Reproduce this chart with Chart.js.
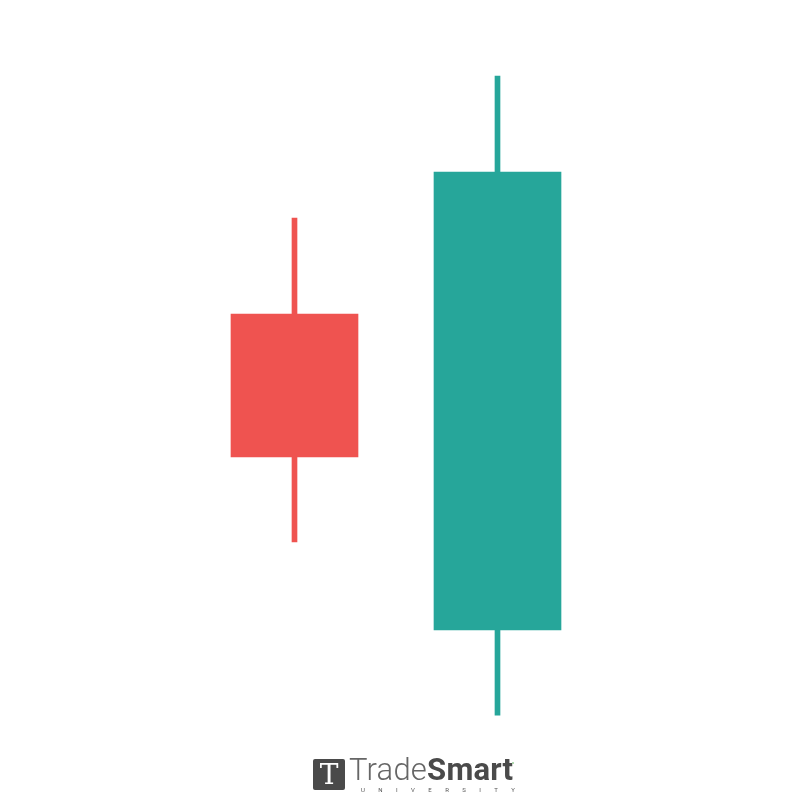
<!DOCTYPE html>
<html>
<head>
<meta charset="utf-8">
<script src="https://cdn.jsdelivr.net/npm/chart.js@4.4.0/dist/chart.umd.min.js"></script>
<style>
  html, body { margin: 0; padding: 0; background: #fff; }
  #wrap { position: relative; width: 800px; height: 800px; }
  #logo { position: absolute; left: 313px; top: 752px; width: 210px; height: 45px; font-family: Roboto, sans-serif; color: #4a4a4a; }
  #logo .icon { position: absolute; left: 0; top: 7px; width: 32px; height: 31px; background: #4a4a4a; border-radius: 2px;
    color: #fff; font-family: "DejaVu Serif", serif; font-size: 28px; font-weight: 400; line-height: 32px; text-align: center; }
  #logo .name { position: absolute; left: 36px; top: 0; font-size: 31px; white-space: nowrap; line-height: 36px; letter-spacing: 0.2px; }
  #logo .name .light { font-weight: 300; color: #666; }
  #logo .name .bold { font-weight: 700; color: #4a4a4a; }
  #logo .tm { position: absolute; left: 199px; top: 10px; width: 2px; height: 2px; border-radius: 1px; background: #9c9; }
  #logo .uni { position: absolute; left: 48px; top: 35px; width: 154px; display: flex; justify-content: space-between;
    font-size: 6px; line-height: 6px; color: #555; }
</style>
</head>
<body>
<div id="wrap">
  <canvas id="myChart" width="800" height="800"></canvas>
  <div id="logo">
    <div class="icon">T</div>
    <div class="name"><span class="light">Trade</span><span class="bold">Smart</span></div>
    <div class="tm"></div>
    <div class="uni"><span>U</span><span>N</span><span>I</span><span>V</span><span>E</span><span>R</span><span>S</span><span>I</span><span>T</span><span>Y</span></div>
  </div>
</div>
<script>
// candles: one bearish, one bullish
const labels = ['Bearish', 'Bullish']
const openVals = [60.75, 21.25]
const closeVals = [42.9, 78.5]
const highVals = [72.75, 90.5]
const lowVals = [32.25, 10.6]

const upColor = '#26a69a'
const downColor = '#ef5350'

function createChart() {
  const ctx = document.getElementById('myChart').getContext('2d')
  const colors = openVals.map((o, i) => (closeVals[i] >= o ? upColor : downColor))

  new Chart(ctx, {
    type: 'bar',
    data: {
      labels: labels,
      datasets: [
        {
          label: 'Body',
          data: openVals.map((o, i) => [o, closeVals[i]]),
          backgroundColor: colors,
          borderWidth: 0,
          borderSkipped: false,
          barThickness: 127,
          grouped: false,
          order: 1
        },
        {
          label: 'Wick',
          data: lowVals.map((l, i) => [l, highVals[i]]),
          backgroundColor: colors,
          borderWidth: 0,
          borderSkipped: false,
          barThickness: 5,
          grouped: false,
          order: 2
        }
      ]
    },
    options: {
      responsive: false,
      animation: false,
      layout: { padding: { left: 193, right: 201, top: 0, bottom: 0 } },
      plugins: { legend: { display: false }, tooltip: { enabled: false } },
      scales: {
        x: { display: false, offset: true },
        y: { display: false, min: 0, max: 100 }
      }
    }
  })
}

createChart()
</script>
</body>
</html>
